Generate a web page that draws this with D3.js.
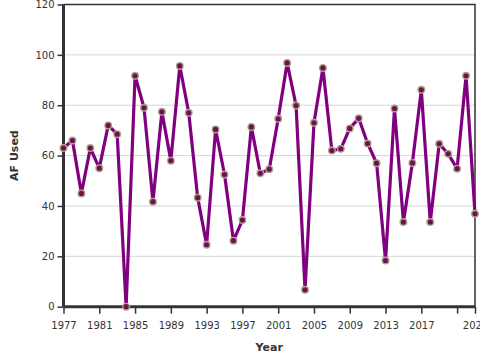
<!DOCTYPE html>
<html><head><meta charset="utf-8">
<script src="https://cdn.jsdelivr.net/npm/d3@7"></script>
<style>
body{margin:0;background:#fff;}
text{font-family:"DejaVu Sans",Verdana,sans-serif;}
</style></head>
<body><svg id="c" width="480" height="360"></svg>
<script>
const years = d3.range(1977, 2024);
const afUsed = [63,66,45,63,55,72,68.5,0,91.7,79,41.7,77.4,58,95.6,77,43.3,24.6,70.4,52.5,26.2,34.4,71.4,53,54.6,74.6,96.8,79.9,6.7,73,94.8,62,62.7,70.8,74.8,64.8,57,18.3,78.7,33.6,57.1,86.1,33.6,64.7,60.7,54.8,91.7,36.9];
const xTicks = [1977,1981,1985,1989,1993,1997,2001,2005,2009,2013,2017,2021,2023];
const xTickLabels = ["1977","1981","1985","1989","1993","1997","2001","2005","2009","2013","2017","","2023"];
const yTicks = [0,20,40,60,80,100,120];

const data = years.map((y,i)=>({year:y, v:afUsed[i]}));
const svg = d3.select("#c");
const m = {l:63.5, r:475, t:4.5, b:306.7};
const x = d3.scaleLinear().domain([1977,2023]).range([m.l, m.r]);
const y = d3.scaleLinear().domain([0,120]).range([m.b, m.t]);

// gridlines
svg.append("g").selectAll("line").data(yTicks.filter(d=>d>0 && d<120)).join("line")
  .attr("x1", m.l).attr("x2", m.r).attr("y1", d=>y(d)).attr("y2", d=>y(d))
  .attr("stroke", "#d6d6d6").attr("stroke-width", 1);

// frame top/right
svg.append("path").attr("d", `M${m.l},${m.t}H${m.r}V${m.b}`)
  .attr("fill","none").attr("stroke","#333").attr("stroke-width",1.5);

// axes
const yAxis = svg.append("g").attr("transform", `translate(${m.l},0)`)
  .call(d3.axisLeft(y).tickValues(yTicks).tickSize(6).tickFormat(d3.format("d")));
const xAxis = svg.append("g").attr("transform", `translate(0,${m.b})`)
  .call(d3.axisBottom(x).tickValues(xTicks).tickSize(7).tickFormat((d,i)=>xTickLabels[i]));
[yAxis,xAxis].forEach(a=>{
  a.select(".domain").attr("stroke","#333").attr("stroke-width",3);
  a.selectAll(".tick line").attr("stroke","#333").attr("stroke-width",1.5);
  a.selectAll(".tick text").attr("fill","#333").style("font-size","10px");
});
yAxis.select(".domain").attr("d", `M0,${m.b}V${m.t}`);
xAxis.select(".domain").attr("d", `M${m.l},0H${m.r}`);
xAxis.selectAll(".tick text").attr("dy","1.2em");

// line
svg.append("path").datum(data)
  .attr("d", d3.line().x(d=>x(d.year)).y(d=>y(d.v)))
  .attr("fill","none").attr("stroke","#800080").attr("stroke-width",3.2)
  .attr("stroke-linejoin","round");

// points
svg.append("g").selectAll("circle").data(data).join("circle")
  .attr("cx", d=>x(d.year)).attr("cy", d=>y(d.v)).attr("r", 3.3)
  .attr("fill","#6a1256").attr("stroke","#b3a584").attr("stroke-width",1.4);

// axis titles
svg.append("text").attr("x", (m.l+m.r)/2).attr("y", 351).attr("text-anchor","middle")
  .style("font-size","11px").style("font-weight","bold").attr("fill","#333").text("Year");
svg.append("text").attr("transform", `translate(18,${(m.t+m.b)/2}) rotate(-90)`)
  .attr("text-anchor","middle").style("font-size","11px").style("font-weight","bold")
  .attr("fill","#333").text("AF Used");
</script></body></html>
